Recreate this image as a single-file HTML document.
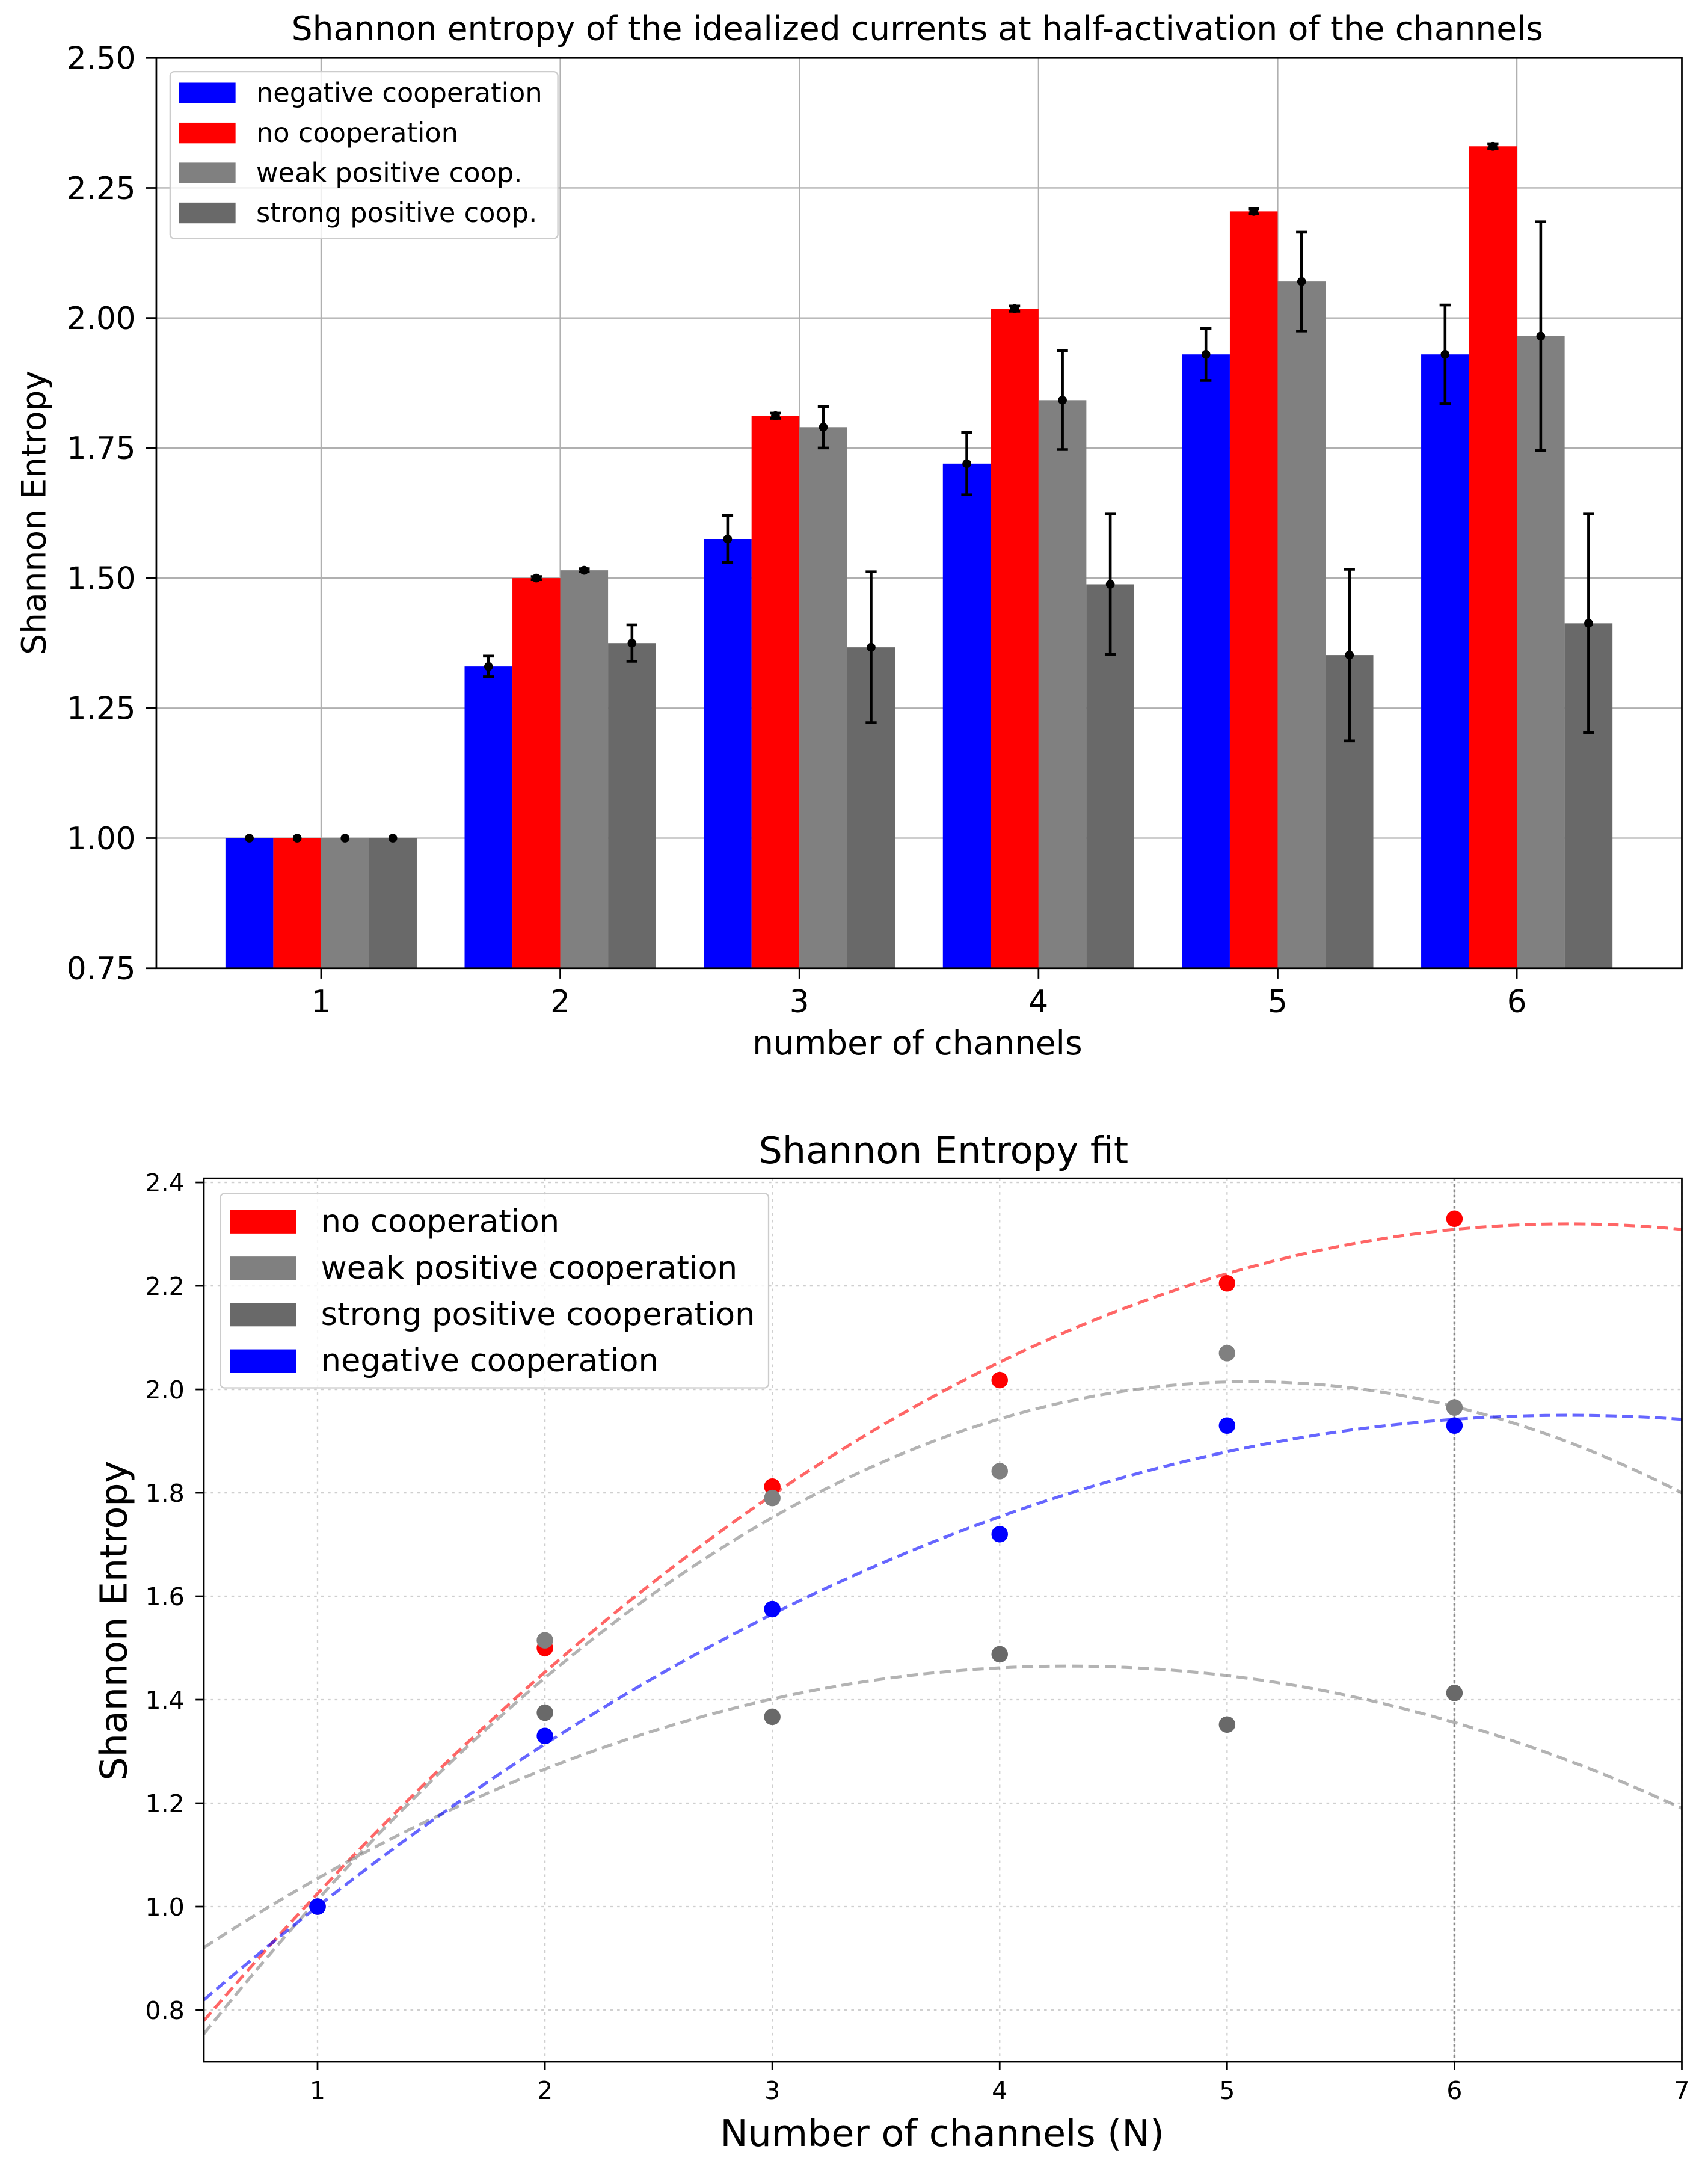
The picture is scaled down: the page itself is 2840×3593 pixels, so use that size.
<!DOCTYPE html>
<html><head><meta charset="utf-8"><style>
html,body{margin:0;padding:0;background:#fff}
svg{display:block;font-family:"DejaVu Sans","Liberation Sans",sans-serif}
</style></head><body>
<svg id="fig" width="2840" height="3593" viewBox="0 0 1240 1568" preserveAspectRatio="none" xmlns="http://www.w3.org/2000/svg">
<rect width="1240" height="1568" fill="#fff"/>
<g id="topchart"></g>
<g id="botchart"></g>
</svg>
<script>
const categories = [1, 2, 3, 4, 5, 6];
const seriesNames = ["negative cooperation", "no cooperation", "weak positive coop.", "strong positive coop."];
const negVals = [1.00, 1.33, 1.575, 1.72, 1.93, 1.93];
const noVals = [1.00, 1.50, 1.812, 2.018, 2.205, 2.33];
const weakVals = [1.00, 1.515, 1.79, 1.842, 2.07, 1.965];
const strongVals = [1.00, 1.375, 1.367, 1.488, 1.352, 1.413];
const negErr = [0, 0.02, 0.045, 0.06, 0.05, 0.095];
const noErr = [0, 0.003, 0.005, 0.005, 0.005, 0.005];
const weakErr = [0, 0.003, 0.04, 0.095, 0.095, 0.22];
const strongErr = [0, 0.035, 0.145, 0.135, 0.165, 0.21];
const topYTicks = ["0.75", "1.00", "1.25", "1.50", "1.75", "2.00", "2.25", "2.50"];
const botYTicks = ["0.8", "1.0", "1.2", "1.4", "1.6", "1.8", "2.0", "2.2", "2.4"];
const botXTicks = ["1", "2", "3", "4", "5", "6", "7"];
// quadratic fit parameters: [peak x, peak y, curvature]
const fitNo = [6.5, 2.32, 0.0428];
const fitWeak = [5.1, 2.015, 0.0596];
const fitStrong = [4.3, 1.465, 0.0377];
const fitNeg = [6.5, 1.95, 0.0314];

const NS = "http://www.w3.org/2000/svg";
function mk(parent, tag, attrs, text) {
  const e = document.createElementNS(NS, tag);
  for (const k in attrs) e.setAttribute(k, attrs[k]);
  if (text !== undefined) e.textContent = text;
  parent.appendChild(e);
  return e;
}
const colors = ["#0000ff", "#ff0000", "#808080", "#696969"];

// ---------- TOP CHART ----------
const topG = document.getElementById("topchart");
const T = {l: 113.5, r: 1221, t: 42, b: 702.5, x0: 0.311, x1: 6.69, y0: 0.75, y1: 2.5};
const tx = v => T.l + (v - T.x0) / (T.x1 - T.x0) * (T.r - T.l);
const ty = v => T.b - (v - T.y0) / (T.y1 - T.y0) * (T.b - T.t);
categories.forEach(c => {
  const g = mk(topG, "line", {x1: tx(c), x2: tx(c), y1: T.t, y2: T.b, stroke: "#b0b0b0", "stroke-width": 1});
  
  
});
topYTicks.forEach(s => {
  const g = mk(topG, "line", {x1: T.l, x2: T.r, y1: ty(+s), y2: ty(+s), stroke: "#b0b0b0", "stroke-width": 1});
  
  
});
const allVals = [negVals, noVals, weakVals, strongVals];
const allErr = [negErr, noErr, weakErr, strongErr];
const offs = [-0.3, -0.1, 0.1, 0.3];
allVals.forEach((vals, si) => {
  vals.forEach((v, i) => {
    const cx = categories[i] + offs[si];
    const r = mk(topG, "rect", {x: tx(cx - 0.1), y: ty(v), width: tx(cx + 0.1) - tx(cx - 0.1), height: ty(T.y0) - ty(v), fill: colors[si]});
    
    
  });
});
allVals.forEach((vals, si) => {
  vals.forEach((v, i) => {
    const cx = tx(categories[i] + offs[si]);
    const e = allErr[si][i];
    const g = mk(topG, "g", {});
    
    
    if (e > 0) {
      mk(g, "line", {x1: cx, x2: cx, y1: ty(v - e), y2: ty(v + e), stroke: "#000", "stroke-width": 2});
      mk(g, "line", {x1: cx - 4, x2: cx + 4, y1: ty(v - e), y2: ty(v - e), stroke: "#000", "stroke-width": 2});
      mk(g, "line", {x1: cx - 4, x2: cx + 4, y1: ty(v + e), y2: ty(v + e), stroke: "#000", "stroke-width": 2});
    }
    mk(g, "circle", {cx: cx, cy: ty(v), r: 3.2, fill: "#000"});
  });
});
mk(topG, "rect", {x: T.l, y: T.t, width: T.r - T.l, height: T.b - T.t, fill: "none", stroke: "#000", "stroke-width": 1.2});
topYTicks.forEach(s => {
  mk(topG, "line", {x1: T.l - 7.5, x2: T.l, y1: ty(+s), y2: ty(+s), stroke: "#000", "stroke-width": 1.2});
  const t = mk(topG, "text", {x: T.l - 15, y: ty(+s) + 8, "text-anchor": "end", "font-size": 22.5}, s);
  
  
});
categories.forEach(c => {
  mk(topG, "line", {x1: tx(c), x2: tx(c), y1: T.b, y2: T.b + 7.5, stroke: "#000", "stroke-width": 1.2});
  const t = mk(topG, "text", {x: tx(c), y: T.b + 32, "text-anchor": "middle", "font-size": 22.5}, String(c));
  
  
});
let t1 = mk(topG, "text", {x: 666, y: 29, "text-anchor": "middle", "font-size": 24}, "Shannon entropy of the idealized currents at half-activation of the channels");
 
t1 = mk(topG, "text", {x: 666, y: 765, "text-anchor": "middle", "font-size": 24}, "number of channels");
 
t1 = mk(topG, "text", {x: 33, y: 372, "text-anchor": "middle", "font-size": 24, transform: "rotate(-90 33 372)"}, "Shannon Entropy");
 
const lg = mk(topG, "g", {});
 
mk(lg, "rect", {x: 123.5, y: 52, width: 281.5, height: 121, rx: 3, fill: "#fff", "fill-opacity": 0.8, stroke: "#ccc", "stroke-width": 1});
seriesNames.forEach((n, i) => {
  const y = 67 + i * 29;
  const e = mk(lg, "g", {});
   
  mk(e, "rect", {x: 130, y: y - 7, width: 41, height: 15, fill: colors[i]});
  mk(e, "text", {x: 186, y: y + 7, "font-size": 19.5}, n);
});

// ---------- BOTTOM CHART ----------
const botG = document.getElementById("botchart");
const B = {l: 148, r: 1221, t: 855, b: 1496, x0: 0.5, x1: 7, y0: 0.70, y1: 2.408};
const bx = v => B.l + (v - B.x0) / (B.x1 - B.x0) * (B.r - B.l);
const by = v => B.b - (v - B.y0) / (B.y1 - B.y0) * (B.b - B.t);
botXTicks.forEach(s => {
  const g = mk(botG, "line", {x1: bx(+s), x2: bx(+s), y1: B.t, y2: B.b, stroke: "#cfcfcf", "stroke-width": 1, "stroke-dasharray": "2,3"});
   
});
botYTicks.forEach(s => {
  const g = mk(botG, "line", {x1: B.l, x2: B.r, y1: by(+s), y2: by(+s), stroke: "#cfcfcf", "stroke-width": 1, "stroke-dasharray": "2,3"});
   
});
let vl = mk(botG, "line", {x1: bx(categories[5]), x2: bx(categories[5]), y1: B.t, y2: B.b, stroke: "#888", "stroke-width": 1.5, "stroke-dasharray": "2,2"});
 
const fits = [[fitNo, "#ff0000"], [fitWeak, "#808080"], [fitStrong, "#808080"], [fitNeg, "#0000ff"]];
const fitNames = ['fit-no-coop', 'fit-weak', 'fit-strong', 'fit-negative'];
fits.forEach(([p, col], i) => {
  let d = "";
  for (let k = 0; k <= 130; k++) {
    const x = B.x0 + (B.x1 - B.x0) * k / 130;
    const y = p[1] - p[2] * (x - p[0]) * (x - p[0]);
    d += (k ? "L" : "M") + bx(x).toFixed(2) + "," + by(y).toFixed(2);
  }
  const pth = mk(botG, "path", {d: d, fill: "none", stroke: col, "stroke-opacity": 0.6, "stroke-width": 2.2, "stroke-dasharray": "8,4"});
   
});
const scat = [[noVals, "#ff0000"], [weakVals, "#808080"], [strongVals, "#696969"], [negVals, "#0000ff"]];
scat.forEach(([vals, col], si) => {
  vals.forEach((v, i) => {
    const c = mk(botG, "circle", {cx: bx(categories[i]), cy: by(v), r: 6, fill: col});
    
    
  });
});
mk(botG, "rect", {x: B.l, y: B.t, width: B.r - B.l, height: B.b - B.t, fill: "none", stroke: "#000", "stroke-width": 1.2});
botYTicks.forEach(s => {
  mk(botG, "line", {x1: B.l - 6, x2: B.l, y1: by(+s), y2: by(+s), stroke: "#000", "stroke-width": 1.2});
  const t = mk(botG, "text", {x: B.l - 14, y: by(+s) + 6.5, "text-anchor": "end", "font-size": 18}, s);
   
});
botXTicks.forEach(s => {
  mk(botG, "line", {x1: bx(+s), x2: bx(+s), y1: B.b, y2: B.b + 6, stroke: "#000", "stroke-width": 1.2});
  const t = mk(botG, "text", {x: bx(+s), y: B.b + 27, "text-anchor": "middle", "font-size": 18}, s);
   
});
t1 = mk(botG, "text", {x: 685, y: 844, "text-anchor": "middle", "font-size": 27}, "Shannon Entropy fit");
 
t1 = mk(botG, "text", {x: 684, y: 1557, "text-anchor": "middle", "font-size": 27}, "Number of channels (N)");
 
t1 = mk(botG, "text", {x: 92, y: 1176, "text-anchor": "middle", "font-size": 27, transform: "rotate(-90 92 1176)"}, "Shannon Entropy");
 
const lg2 = mk(botG, "g", {});
 
mk(lg2, "rect", {x: 160, y: 866, width: 398, height: 141, rx: 3, fill: "#fff", "fill-opacity": 0.8, stroke: "#ccc", "stroke-width": 1});
const names2 = ["no cooperation", "weak positive cooperation", "strong positive cooperation", "negative cooperation"];
const cols2 = ["#ff0000", "#808080", "#696969", "#0000ff"];
names2.forEach((n, i) => {
  const y = 886 + i * 33.7;
  const e = mk(lg2, "g", {});
   
  mk(e, "rect", {x: 167, y: y - 8, width: 48, height: 17, fill: cols2[i]});
  mk(e, "text", {x: 233, y: y + 8, "font-size": 23}, n);
});
</script>
</body></html>
